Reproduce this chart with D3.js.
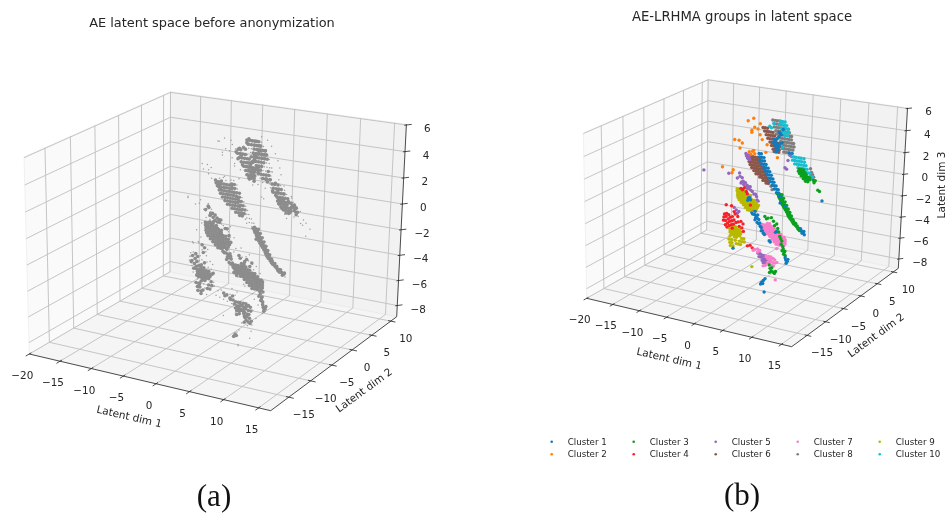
<!DOCTYPE html>
<html>
<head>
<meta charset="utf-8">
<script src="https://cdn.jsdelivr.net/npm/d3@7"></script>
<style>
  html, body { margin: 0; padding: 0; background: #fff; overflow: hidden; }
  svg { display: block; filter: blur(0.45px); }
  text { font-family: "DejaVu Sans", sans-serif; fill: #262626; }
  text.caption { font-family: "Liberation Serif", serif; fill: #111; }
</style>
</head>
<body>
<div id="chart"></div>
<script>
var xTicks = [-20, -15, -10, -5, 0, 5, 10, 15];
var yTicks = [-15, -10, -5, 0, 5, 10];
var zTicks = [-8, -6, -4, -2, 0, 2, 4, 6];
var xDomain = [-20, 16.7], yDomain = [-19, 11.6], zDomain = [-8.9, 6.05];

var clusterNames = ["Cluster 1", "Cluster 2", "Cluster 3", "Cluster 4", "Cluster 5", "Cluster 6", "Cluster 7", "Cluster 8", "Cluster 9", "Cluster 10"];
var clusterColors = ["#0f7bbd", "#ff7f0e", "#0aa01e", "#f5202a", "#9467bd", "#8c564b", "#f77fca", "#7f7f7f", "#b8b800", "#17becf"];
var drawOrder = [7, 9, 5, 1, 4, 8, 3, 6, 2, 0];
// depth can't be read off a flat picture, so dim 2 is one estimate per cluster
var clusterDim2 = [0, 0, 0, 0, 0, 0, 0, 0, 0, 0];

// flat lists of latent dim 1, latent dim 3 pairs
var cluster1 = [-2.1,2.4,-1.7,2.4,-2,2.1,-1.6,2.1,-1.2,2.1,-1.9,1.8,-1.5,1.8,-1.1,1.8,-1.6,1.5,-1.2,1.5,-.8,1.5,-1.2,1.2,-.8,1.2,-.4,1.2,-.9,.9,-.5,.9,-.1,.9,-.6,.6,-.2,.6,.2,.6,-.3,.3,.1,.3,.5,.3,0,0,.4,0,.7,0,.4,-.3,.8,-.3,1.1,-.3,.8,-.6,1.2,-.6,1.5,-.6,1.2,-.9,1.6,-.9,1.7,-1.2,2,-1.2,5.9,-4,6.2,-4.1,6.4,-4.3,6,-4.2,6.3,-4,5.7,-3.8,.3,3.6,.6,3.4,.9,3.2,.8,3.7,1.1,3.5,1.2,3,.5,3.9,1,4,1.4,3.4,1.4,4.2,1.6,4.5,1.4,4.6,1.8,4.4,1.3,3.1,.9,2.8,1.6,3.6,2,3.7,2.1,4.9,3.3,2.9,9.3,-.9,3.8,2.9,1.9,-1.8,2.8,-2,-3.9,-1.9,-3.7,-1.8,-4,-2.1,-3.5,-2,-2.6,-3,-3.2,-3.2,-3,-3.3,-2.7,-3.3,-2.4,-3.4,-2.1,-3.3,-2.5,-3.6,-2.2,-3.6,-1.9,-3.7,-2.6,-3.8,-2.2,-4,-1.9,-4.1,-1.6,-4.3,-1.7,-4,-1.4,-4.4,-1.2,-4.7,-1.4,-4.7,-1,-4.9,-.8,-5,1.4,-4.5,1.2,-4.6,.1,-5.5,.3,-5.6,3.2,-7,3.5,-7.1,3.3,-7.3,3.6,-6.9,3.1,-6.8,-6.6,-6.9,-1.1,-9.6,-.8,-9.4,-1.3,-9.8,-.9,-9.7,-.5,-9.2,-.6,-10.5];
var cluster2 = [-4.2,5.2,-3.2,5.5,-3,4.7,-3.5,4.4,-2,5.1,-2,4.1,-1.6,3.7,-.7,3.3,1.2,2.3,-5.2,3.1,-5.6,2.6,-6.6,3.3,-5.8,3.3,-3.9,2.4,-3.3,2.5,-3.6,2.2,-2.9,2.3,-3.1,2.6,-3.5,4.2,-2.4,4.6,-.9,2.6,-8.8,.6,-7,.2,-6.8,.5];
var cluster3 = [1.4,-1,1.8,-1,2.2,-1,1.6,-1.15,2,-1.15,1.7,-1.3,2.1,-1.3,2.5,-1.3,1.9,-1.45,2.3,-1.45,2,-1.6,2.4,-1.6,2.8,-1.6,2.2,-1.75,2.6,-1.75,2.3,-1.9,2.7,-1.9,3.1,-1.9,2.5,-2.05,2.9,-2.05,2.7,-2.2,3.1,-2.2,3.4,-2.2,2.9,-2.35,3.3,-2.35,3.1,-2.5,3.4,-2.5,3.7,-2.5,3.3,-2.65,3.6,-2.65,3.4,-2.8,3.7,-2.8,4,-2.8,3.6,-2.95,3.9,-2.95,3.8,-3.1,4.1,-3.1,4.3,-3.1,4.1,-3.25,4.4,-3.25,4.3,-3.4,4.6,-3.4,4.8,-3.4,4.5,-3.5,4.8,-3.6,5.1,-3.6,5,-3.7,5.2,-3.8,5.4,-3.8,5.3,-3.9,5.5,-4,5.7,-4,5.1,1.6,5.5,1.6,5.9,1.6,5,1.4,5.3,1.4,5.7,1.4,6.1,1.4,5.2,1.2,5.6,1.2,6,1.2,6.4,1.2,5.5,1,5.9,1,6.3,1,6.7,1,7,1,5.9,.8,6.2,.8,6.6,.8,7,.8,7.7,.8,8,.8,6.3,.6,6.7,.6,7.8,.6,8.5,0,8.8,-.1,-.8,-3.3,-.5,-3.5,-.2,-3.4,.4,-3.3,.8,-3.6,1.4,-3.8,1,-4,1.6,-4.2,1.8,-4.5,2,-4.9,2.2,-5.1,2.4,-5.3,2.6,-5.8,2.3,-5.6,2.9,-6.3,2.7,-6,3,-6.2,2.5,-6.2,2.8,-6.5,3.1,-6.6,.4,-8.1,.2,-7.8,.7,-8,1.4,-8.3,.9,-8.4,1.2,-8.5,.6,-8.3,.3,-8.5];
var cluster4 = [-8.3,-3.8,-7.9,-3.7,-7.5,-3.8,-8.4,-4.1,-8,-4,-7.6,-4.2,-7.2,-4,-6.8,-3.9,-8.5,-4.4,-8.1,-4.4,-7.7,-4.6,-7.3,-4.4,-6.9,-4.3,-6.5,-4.2,-8.1,-4.8,-7.4,-4.8,-7,-4.7,-6.6,-4.6,-6.1,-4.4,-5.7,-4.3,-5.2,-4.2,-4.8,-4.4,-7.8,-5,-6.8,-5,-5.5,-4.7,-5,-4.8,-4.7,-5.1,-5.8,-3.8,-6.3,-3.6,-8,-2.9,-7,-2.9,-6.5,-3.4,-5.3,-1.1,-5,-1.2,-4.7,-1,-4.3,-1.3,-4.1,-1.5,-3.5,-2.5,-3.9,-6.4,-3,-6.5,-3.4,-6.3];
var cluster5 = [-12.3,0,-7.6,.1,-5.6,.3,-6,-.2,-5.3,-.6,-4.4,2,-4.2,1.8,-3.9,1.9,-4.5,2.2,-4.1,2.1,-3.8,1.7,-5.5,0,-5.1,-.1,-4.9,-.4,-4.5,-.5,-4.2,-.7,-5.2,-.5,-4.8,-.7,-3.9,-.8,-3.6,-.8,-3.5,-1.1,-3.2,-1.2,-2.9,-1.4,-2.6,-1.4,-2.4,-1.6,-2.3,-1.9,-2.1,-2,-4.5,-.9,-4.1,-1,-3.8,-1,-6.5,-3,-5.6,-3.3,-5.9,-3.5,-6.1,-3.2,3.1,2.2,2.6,1.5,3.4,2.7,2.9,1.4,-1.9,-6.9,-1.5,-6.9,-1.1,-7,-.7,-7,-1.7,-7.2,-1.3,-7.2,-.9,-7.3,-.5,-7.3,-1.1,-7.5,-.7,-7.5,-.3,-7.5,-.9,-7.7,-.5,-7.7];
var cluster6 = [-1.5,4.8,-1.1,4.8,-.7,4.8,-1.2,4.5,-.8,4.5,-.4,4.5,0,4.5,.3,4.5,-.9,4.2,-.5,4.2,-.1,4.2,.3,4.2,.6,4.2,-.6,3.9,-.2,3.9,.2,3.9,.6,3.9,.9,3.9,-.2,3.6,.1,3.6,.5,3.6,.9,3.6,1.2,3.6,.1,3.3,.5,3.3,.8,3.3,1.2,3.3,1.5,3.3,.4,3,.8,3,1.1,3,1.5,3,.6,2.8,1,2.8,1.4,2.8,-3.6,2,-3.2,2,-2.8,2,-2.4,2,-2,2,-4,1.75,-3.6,1.75,-3.2,1.75,-2.8,1.75,-2.4,1.75,-2,1.75,-3.9,1.5,-3.5,1.5,-3.1,1.5,-2.7,1.5,-2.3,1.5,-1.9,1.5,-3.7,1.25,-3.3,1.25,-2.9,1.25,-2.5,1.25,-2.1,1.25,-1.7,1.25,-1.3,1.25,-3.4,1,-3,1,-2.6,1,-2.2,1,-1.8,1,-1.4,1,-1,1,-3,.75,-2.6,.75,-2.2,.75,-1.8,.75,-1.4,.75,-1,.75,-2.6,.5,-2.2,.5,-1.8,.5,-1.4,.5,-1,.5,-.7,.5,-1.9,.25,-1.5,.25,-1.1,.25,-.7,.25,-.4,.25,-1.3,0,-.9,0,-.5,0,-.2,0,-.7,-.2,-.3,-.2,-3.3,-2.7,-3,-2.6,-3.1,-2.9,-2.7,-2.9];
var cluster7 = [-.3,-3.9,.1,-3.9,-1.6,-4.1,-1.2,-4.1,-.8,-4.1,-.4,-4.1,0,-4.1,.4,-4.1,-1.3,-4.3,-.9,-4.3,-.5,-4.3,-.1,-4.3,.3,-4.3,.7,-4.3,1,-4.3,-1.1,-4.5,-.7,-4.5,-.3,-4.5,.1,-4.5,.5,-4.5,.9,-4.5,1.3,-4.5,1.7,-4.5,-1,-4.7,-.6,-4.7,-.2,-4.7,.2,-4.7,.6,-4.7,1,-4.7,1.4,-4.7,1.8,-4.7,2.2,-4.7,-.4,-4.9,0,-4.9,.4,-4.9,.8,-4.9,1.2,-4.9,1.6,-4.9,2,-4.9,2.4,-4.9,2.8,-4.9,.2,-5.1,.6,-5.1,1,-5.1,1.4,-5.1,1.8,-5.1,2.2,-5.1,2.6,-5.1,3,-5.1,.6,-5.3,1,-5.3,1.4,-5.3,1.8,-5.3,2.2,-5.3,2.6,-5.3,3,-5.3,1,-5.5,1.4,-5.5,1.8,-5.5,2.2,-5.5,2.6,-5.5,3,-5.5,1.4,-5.7,1.8,-5.7,2.2,-5.7,2.8,-5.7,1.5,-6.1,-2,-6.5,-2.5,-6.6,-2.8,-6.7,-2,-6.8,-1.6,-6.6,-.4,-7,-.1,-7.2,.2,-7.3,.5,-7.4,.9,-7.5,1.3,-7.5,-.1,-7.6,.3,-7.7,.7,-7.8,1,-7.8,.2,-7.5,.6,-7.2,.1,-7,.5,-7,.9,-7.1,1.2,-7.2,1.6,-7.4,-.9,-8,-.5,-7.9,1.4,-9.1];
var cluster8 = [.2,5.6,.6,5.6,1,5.6,1.4,5.6,1.8,5.6,.5,5.3,.9,5.3,1.3,5.3,1.7,5.3,2.1,5.3,.5,5,.9,5,1.3,5,1.7,5,2.2,5,2.6,5,3,5,.8,4.7,1.2,4.7,1.6,4.7,2,4.7,2.4,4.7,2.8,4.7,3.2,4.7,.9,4.4,1.3,4.4,1.7,4.4,2.1,4.4,2.5,4.4,2.9,4.4,3.3,4.4,3.6,4.4,1.2,4.1,1.6,4.1,2,4.1,2.4,4.1,2.8,4.1,3.2,4.1,3.6,4.1,1.7,3.8,2.1,3.8,2.5,3.8,2.9,3.8,3.3,3.8,3.7,3.8,4,3.8,1.9,3.5,2.3,3.5,2.7,3.5,3.1,3.5,3.5,3.5,3.9,3.5,4.1,3.5,2,3.2,2.4,3.2,2.8,3.2,3.2,3.2,3.6,3.2,3.9,3.2,2.3,2.9,2.7,2.9,3.1,2.9,.2,-.4,.4,-.7,7.1,1.8,7.3,1.5,7.5,1.3,7.7,1.1,7.2,1.2,7.5,.9];
var cluster9 = [-6,-1.2,-5.6,-1.2,-5.2,-1.2,-4.8,-1.2,-6,-1.4,-5.6,-1.4,-5.2,-1.4,-4.8,-1.4,-4.4,-1.4,-5.9,-1.6,-5.5,-1.6,-5.1,-1.6,-4.7,-1.6,-4.3,-1.6,-3.9,-1.6,-3.5,-1.6,-5.9,-1.8,-5.5,-1.8,-5.1,-1.8,-4.7,-1.8,-4.3,-1.8,-3.9,-1.8,-3.5,-1.8,-5.8,-2,-5.4,-2,-5,-2,-4.6,-2,-4.2,-2,-3.8,-2,-3.4,-2,-3.2,-2,-2.8,-2,-5.6,-2.2,-5.2,-2.2,-4.8,-2.2,-4.4,-2.2,-4,-2.2,-3.6,-2.2,-3.2,-2.2,-2.8,-2.2,-2.4,-2.2,-5.2,-2.4,-4.8,-2.4,-4.4,-2.4,-4,-2.4,-3.6,-2.4,-3.2,-2.4,-2.8,-2.4,-2.4,-2.4,-2,-2.4,-4.8,-2.6,-4.4,-2.6,-4,-2.6,-3.6,-2.6,-3.2,-2.6,-2.9,-2.6,-2.6,-2.6,-2.2,-2.6,-4.4,-2.8,-4,-2.8,-3.6,-2.8,-3.2,-2.8,-2.9,-2.8,-2.4,-2.8,-4,-3,-3.6,-3,-3.4,-3,-6.6,-4.8,-6.2,-4.8,-7.4,-5,-7,-5,-6.6,-5,-6.2,-5,-5.8,-5,-5.4,-5,-7.2,-5.2,-6.8,-5.2,-6.4,-5.2,-6,-5.2,-5.6,-5.2,-5.2,-5.2,-7.2,-5.4,-6.8,-5.4,-6.4,-5.4,-6,-5.4,-5.6,-5.4,-5.2,-5.4,-7,-5.6,-6.6,-5.6,-6.2,-5.6,-5.8,-5.6,-5.4,-5.6,-7.2,-5.8,-6.4,-5.8,-6,-5.8,-5,-5.8,-4.6,-5.8,-7.4,-6.1,-6.9,-6.1,-6.2,-6.1,-5.4,-6.1,-4.9,-6.1,-4.5,-6.1,-7.2,-6.4,-6.8,-6.4,-6,-6.4,-5.6,-6.4,-5.2,-6.4,-7.1,-6.7,-6.6,-6.7,-3,-8.3];
var cluster10 = [1.6,5.6,2,5.6,2.4,5.6,1.4,5.3,1.9,5.3,2.3,5.3,2.7,5.3,1.8,5,2.2,5,2.6,5,3,5,2,4.7,2.4,4.7,2.8,4.7,3.1,4.7,2.5,4.4,2.9,4.4,.4,5.3,-.3,5,0,4.9,1.2,4,1.7,3.5,2,3.3,3.7,2.6,4.1,2.6,4.5,2.6,5,2.6,5.4,2.6,5.9,2.6,3.9,2.3,4.3,2.3,4.7,2.3,5.1,2.3,5.5,2.3,6,2.3,4.3,2,4.7,2,5.1,2,5.5,2,5.9,2,6.3,2,4.9,1.7,5.3,1.7,5.7,1.7,6.1,1.7,6.5,1.7,5.5,1.4,5.9,1.4,6.3,1.4,6.7,1.4,7,1.4,7.1,1.1,7.5,1.1];
var clusterLists = [cluster1, cluster2, cluster3, cluster4, cluster5, cluster6, cluster7, cluster8, cluster9, cluster10];

// faint points that only show up in the grey panel
var unlabelled = [-.6,4.4,-.9,4.9,-.3,5.1,.2,5.4,.5,5.7,-1.4,4.6,-1.1,4.1,-.4,3.7,-.1,3.3,.3,3,.7,2.7,1.4,2.6,2,2.4,2.7,2.6,3.2,2.9,3.8,2.9,4.6,2.7,5.1,3,5.4,3.4,5.2,3.9,4.9,4.4,4.5,4.9,3.9,5.4,3.3,5.8,2.4,6,-2.2,5.4,-4,5.2,-1.6,3.5,1,5.6,4.2,2.1,4.7,1.8,5,2.2,5.5,1.6,5.9,2,5.2,1.2,6.3,1,6.6,1.5,6.9,.7,7.2,1.2,7.5,.4,7.8,1.1,8.1,.5,8.4,.9,8.9,.3,9.3,.1,9.9,-.3,6.1,.5,5.7,.9,7,1.9,6.4,.2,-6.4,2.9,-5.6,2.9,-5.1,2.3,-4,2.1,-3.7,1.7,-8.8,.5,-5.6,.1,-6.3,-.2,-5.2,-.4,-5.9,-.8,-5.3,-.9,-6.6,-1.3,-7.4,-1.9,-7.9,-3,-7.1,-2.8,-6.7,-2.4,-6.4,-3.1,-2.1,-1.2,-1.5,-2,-1.2,-2.8,-.7,-3.3,-1.5,-3.1,-2,-3.5,-.4,-2.7,.2,-3.7,-8.4,-4.1,-7.9,-5.3,-8.2,-4.5,-7.3,-5.5,-6.6,-5.9,-6.1,-5.7,-5.4,-5.5,-4.9,-5.2,-6.9,-6.2,-6.3,-6.6,-5.7,-6.9,-5.1,-6.5,-4.6,-6.1,-4.2,-6.8,-3.6,-6.9,-3,-7,-2.4,-7.1,-.6,-4.5,-1,-4.2,-.2,-4.3,.2,-4.1,-1.4,-4.7,.5,-3.5,.9,-3.1,1.3,-3.7,2,-3.9,2.6,-4.4,3,-5,3.1,-5.8,2.9,-6.5,1.8,-6.5,2.4,-6.9,3.3,-7.1,3.1,-7.5,-1.7,-6,-1.2,-6.5,-.9,-6.2,-.4,-7.2,-.9,-7.5,-1.1,-7.9,.3,-8,1.1,-8.1,.8,-8.7,1.5,-8.6,-.1,-8.6,-1.3,-9.8,1.2,-9.7,-.6,-10.4,2.1,-8];

var width = 947, height = 513;
var svg = d3.select("#chart").append("svg").attr("width", width).attr("height", height);

var xScale = d3.scaleLinear().domain(xDomain).range([0, 1]);
var yScale = d3.scaleLinear().domain(yDomain).range([0, 1]);
var zScale = d3.scaleLinear().domain(zDomain).range([0, 1]);

function toPoints(flat, dim2) {
  var out = [];
  for (var i = 0; i < flat.length; i += 2) {
    out.push({x: flat[i], y: dim2, z: flat[i + 1]});
  }
  return out;
}

// projective camera fitted on the box corners seen in the picture
function makeCamera(c) {
  var dx1 = c.front[0] - c.right[0], dx2 = c.back[0] - c.right[0],
      dy1 = c.front[1] - c.right[1], dy2 = c.back[1] - c.right[1],
      sx = c.left[0] - c.front[0] + c.right[0] - c.back[0],
      sy = c.left[1] - c.front[1] + c.right[1] - c.back[1],
      den = dx1 * dy2 - dx2 * dy1,
      g = (sx * dy2 - dx2 * sy) / den,
      h = (dx1 * sy - sx * dy1) / den,
      k = c.k;
  var A = [0, 1].map(function(i) { return c.front[i] * (1 + g) - c.left[i]; }),
      B = [0, 1].map(function(i) { return c.back[i] * (1 + h) - c.left[i]; }),
      C = [0, 1].map(function(i) { return c.top[i] * (1 + k) - c.left[i]; });
  return function(x, y, z) {
    var u = xScale(x), v = yScale(y), w = zScale(z),
        d = 1 + g * u + h * v + k * w;
    return [
      (c.left[0] + u * A[0] + v * B[0] + w * C[0]) / d,
      (c.left[1] + u * A[1] + v * B[1] + w * C[1]) / d
    ];
  };
}

function drawBox(g, cam, panel) {
  var x0 = xDomain[0], x1 = xDomain[1], y0 = yDomain[0], y1 = yDomain[1], z0 = zDomain[0], z1 = zDomain[1];
  var line = d3.line();

  var panes = [
    {fill: "#fafafa", pts: [[x0, y0, z0], [x0, y1, z0], [x0, y1, z1], [x0, y0, z1]]},
    {fill: "#f2f2f2", pts: [[x0, y1, z0], [x1, y1, z0], [x1, y1, z1], [x0, y1, z1]]},
    {fill: "#f5f5f5", pts: [[x0, y0, z0], [x1, y0, z0], [x1, y1, z0], [x0, y1, z0]]}
  ];
  g.selectAll("path.pane").data(panes).enter().append("path")
    .attr("class", "pane")
    .attr("fill", function(d) { return d.fill; })
    .attr("stroke", "#e8e8e8")
    .attr("stroke-width", 0.6)
    .attr("d", function(d) {
      return line(d.pts.map(function(p) { return cam(p[0], p[1], p[2]); })) + "Z";
    });

  var grid = [];
  xTicks.forEach(function(t) { grid.push([[t, y0, z0], [t, y1, z0], [t, y1, z1]]); });
  yTicks.forEach(function(t) { grid.push([[x0, t, z1], [x0, t, z0], [x1, t, z0]]); });
  zTicks.forEach(function(t) { grid.push([[x0, y0, t], [x0, y1, t], [x1, y1, t]]); });
  g.selectAll("path.grid").data(grid).enter().append("path")
    .attr("class", "grid")
    .attr("fill", "none")
    .attr("stroke", "#c2c2c2")
    .attr("stroke-width", 0.95)
    .attr("d", function(d) {
      return line(d.map(function(p) { return cam(p[0], p[1], p[2]); }));
    });

  var axes = [
    [[x0, y0, z0], [x1, y0, z0]],
    [[x1, y0, z0], [x1, y1, z0]],
    [[x1, y1, z0], [x1, y1, z1]]
  ];
  xTicks.forEach(function(t) { axes.push([[t, y0 + 0.4, z0], [t, y0 - 0.7, z0]]); });
  yTicks.forEach(function(t) { axes.push([[x1 - 0.4, t, z0], [x1 + 0.7, t, z0]]); });
  zTicks.forEach(function(t) { axes.push([[x1 - 0.2, y1 - 0.2, t], [x1 + 0.5, y1 + 0.5, t]]); });
  g.selectAll("path.axis").data(axes).enter().append("path")
    .attr("class", "axis")
    .attr("fill", "none")
    .attr("stroke", "#222")
    .attr("stroke-width", 0.8)
    .attr("d", function(d) {
      return line(d.map(function(p) { return cam(p[0], p[1], p[2]); }));
    });

  function label(cls, values, pos, dx, dy) {
    g.selectAll("text." + cls).data(values).enter().append("text")
      .attr("class", cls)
      .attr("text-anchor", "middle")
      .attr("font-size", 10.4)
      .attr("x", function(d) { return pos(d)[0] + dx; })
      .attr("y", function(d) { return pos(d)[1] + dy; })
      .text(function(d) { return d3.format("d")(d).replace("-", "\u2212"); });
  }
  label("xt", xTicks, function(t) { return cam(t, y0, z0); }, -7, 25);
  label("yt", yTicks, function(t) { return cam(x1, t, z0); }, 15, 21);
  label("zt", zTicks, function(t) { return cam(x1, y1, t); }, 21, 7);

  panel.titles.forEach(function(t) {
    g.append("text")
      .attr("text-anchor", "middle")
      .attr("font-size", 10.5)
      .attr("transform", "translate(" + t.x + "," + t.y + ") rotate(" + t.rot + ")")
      .text(t.text);
  });
}

var panelLeft = {
  corners: {left: [29.3, 354], front: [270.7, 410.7], back: [170, 272], right: [396.7, 316.7], top: [24, 157], k: -0.04},
  titles: [
    {text: "Latent dim 1", x: 128.5, y: 420, rot: 13},
    {text: "Latent dim 2", x: 366, y: 393, rot: -36}
  ]
};
var panelRight = {
  corners: {left: [586.7, 298.3], front: [791.7, 346.7], back: [706.7, 230], right: [898.3, 268.3], top: [583.3, 133], k: -0.04},
  titles: [
    {text: "Latent dim 1", x: 668.5, y: 362, rot: 13},
    {text: "Latent dim 2", x: 878, y: 338, rot: -36},
    {text: "Latent dim 3", x: 945, y: 185, rot: -90}
  ]
};

var camLeft = makeCamera(panelLeft.corners);
var camRight = makeCamera(panelRight.corners);
drawBox(svg.append("g"), camLeft, panelLeft);
drawBox(svg.append("g"), camRight, panelRight);

// grey panel: everything in one colour, thick dots only where they bunch up
var greyPoints = [];
clusterLists.forEach(function(list, i) { greyPoints = greyPoints.concat(toPoints(list, clusterDim2[i])); });
greyPoints = greyPoints.concat(toPoints(unlabelled, 0));
greyPoints.forEach(function(p) {
  var s = camLeft(p.x, p.y, p.z);
  p.sx = s[0];
  p.sy = s[1];
});
greyPoints.forEach(function(p) {
  p.near = greyPoints.filter(function(q) {
    return Math.abs(q.sx - p.sx) < 3.5 && Math.abs(q.sy - p.sy) < 3.5;
  }).length;
});
svg.append("g").selectAll("circle").data(greyPoints).enter().append("circle")
  .attr("cx", function(d) { return d.sx; })
  .attr("cy", function(d) { return d.sy; })
  .attr("r", function(d) { return d.near >= 4 ? 1.8 : 0.75; })
  .attr("fill", function(d) { return d.near >= 4 ? "#8c8c8c" : "#a0a0a0"; });

// coloured panel
drawOrder.forEach(function(i) {
  svg.append("g").selectAll("circle").data(toPoints(clusterLists[i], clusterDim2[i])).enter().append("circle")
    .attr("cx", function(d) { return camRight(d.x, d.y, d.z)[0]; })
    .attr("cy", function(d) { return camRight(d.x, d.y, d.z)[1]; })
    .attr("r", 1.7)
    .attr("fill", clusterColors[i]);
});

// titles and captions
svg.append("text").attr("x", 212).attr("y", 27).attr("text-anchor", "middle").attr("font-size", 12.9).text("AE latent space before anonymization");
svg.append("text").attr("x", 742).attr("y", 21).attr("text-anchor", "middle").attr("font-size", 13.2).text("AE-LRHMA groups in latent space");
svg.append("text").attr("class", "caption").attr("x", 214).attr("y", 506).attr("text-anchor", "middle").attr("font-size", 31).text("(a)");
svg.append("text").attr("class", "caption").attr("x", 742).attr("y", 505).attr("text-anchor", "middle").attr("font-size", 31).text("(b)");

// legend, two rows per column
var legendX = d3.scaleLinear().domain([0, 4]).range([551.7, 879.7]);
var legendY = d3.scaleLinear().domain([0, 1]).range([441.7, 454.3]);
var legend = svg.append("g").selectAll("g").data(clusterNames).enter().append("g")
  .attr("transform", function(d, i) {
    return "translate(" + legendX(Math.floor(i / 2)) + "," + legendY(i % 2) + ")";
  });
legend.append("circle").attr("r", 1.3).attr("fill", function(d, i) { return clusterColors[i]; });
legend.append("text").attr("x", 16).attr("y", 3).attr("font-size", 8.7).text(function(d) { return d; });
</script>
</body>
</html>
